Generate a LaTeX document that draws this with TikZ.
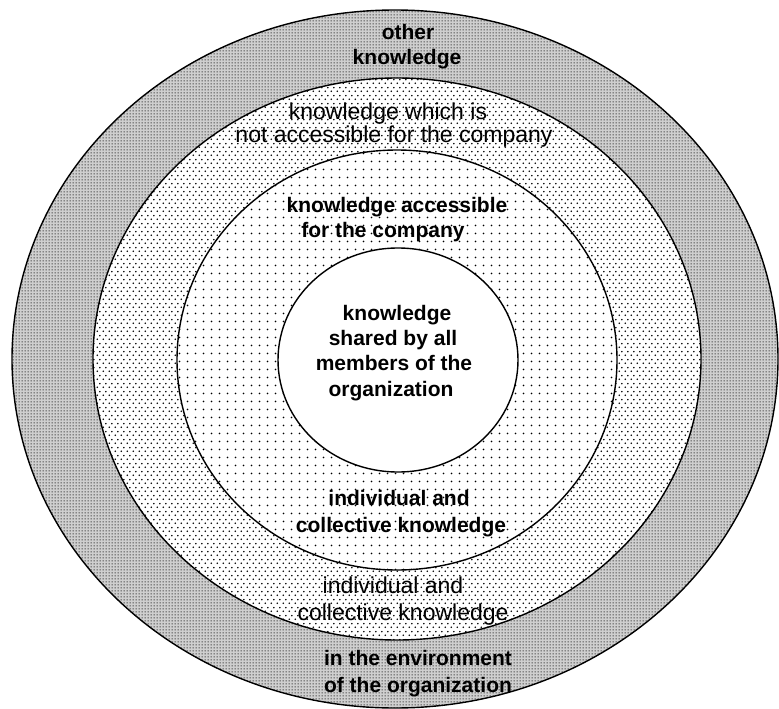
\documentclass[tikz,border=0pt]{standalone}
\usepackage{fontspec}
\setmainfont{Liberation Sans}
\usetikzlibrary{patterns}

% dot screens for the rings
\pgfdeclarepatternformonly{densedots}{\pgfpointorigin}{\pgfqpoint{3pt}{3pt}}{\pgfqpoint{3pt}{3pt}}%
  {\pgfpathcircle{\pgfqpoint{1.5pt}{1.5pt}}{0.8pt}\pgfusepath{fill}}
\pgfdeclarepatternformonly{mediumdots}{\pgfpointorigin}{\pgfqpoint{6pt}{8pt}}{\pgfqpoint{6pt}{8pt}}%
  {\pgfpathcircle{\pgfqpoint{1.5pt}{2pt}}{0.95pt}\pgfpathcircle{\pgfqpoint{4.5pt}{6pt}}{0.95pt}\pgfusepath{fill}}
\pgfdeclarepatternformonly{sparsedots}{\pgfpointorigin}{\pgfqpoint{8pt}{8pt}}{\pgfqpoint{8pt}{8pt}}%
  {\pgfpathcircle{\pgfqpoint{4pt}{4pt}}{1pt}\pgfusepath{fill}}

\tikzset{
  ring/.style={draw=black, line width=1.4pt},
  boldtext/.style={anchor=base, inner sep=0pt, font=\fontsize{21}{26}\selectfont\bfseries},
  plaintext/.style={anchor=base, inner sep=0pt, font=\fontsize{23}{26}\selectfont},
}

\begin{document}
\begin{tikzpicture}[x=1pt, y=-1pt]
\useasboundingbox (0,0) rectangle (779,709);

% filled layers, outermost first
\fill[gray!38] (395,359) ellipse [x radius=383pt, y radius=349pt];
\fill[pattern=densedots, pattern color=black] (395,359) ellipse [x radius=383pt, y radius=349pt];
\fill[white] (397,359) ellipse [x radius=304pt, y radius=281pt];
\fill[pattern=mediumdots, pattern color=black] (397,359) ellipse [x radius=304pt, y radius=281pt];
\fill[white] (397,360) ellipse [x radius=220pt, y radius=210pt];
\fill[pattern=sparsedots, pattern color=black] (397,360) ellipse [x radius=220pt, y radius=210pt];
\fill[white] (398,360) ellipse [x radius=120pt, y radius=112pt];

% outlines
\draw[ring] (395,359) ellipse [x radius=383pt, y radius=349pt];
\draw[ring] (397,359) ellipse [x radius=304pt, y radius=281pt];
\draw[ring] (397,360) ellipse [x radius=220pt, y radius=210pt];
\draw[ring] (398,360) ellipse [x radius=120pt, y radius=112pt];

% outer ring
\node[boldtext] (other1) at (408,40) {other};
\node[boldtext] (other2) at (407,65) {knowledge};
\node[boldtext] (env1) at (418,665) {in the environment};
\node[boldtext] (env2) at (418,692) {of the organization};

% second ring
\node[plaintext] (notacc1) at (388,119) {knowledge which is};
\node[plaintext] (notacc2) at (394,142) {not accessible for the company};
\node[plaintext] (indcol1) at (393,593) {individual and};
\node[plaintext] (indcol2) at (403,620) {collective knowledge};

% third ring
\node[boldtext] (acc1) at (397,212) {knowledge accessible};
\node[boldtext] (acc2) at (383,237) {for the company};
\node[boldtext] (inner1) at (399,505) {individual and};
\node[boldtext] (inner2) at (401,532) {collective knowledge};

% centre
\node[boldtext] (shared1) at (397,320) {knowledge};
\node[boldtext] (shared2) at (393,345) {shared by all};
\node[boldtext] (shared3) at (394,370) {members of the};
\node[boldtext] (shared4) at (391,396) {organization};
\end{tikzpicture}
\end{document}
